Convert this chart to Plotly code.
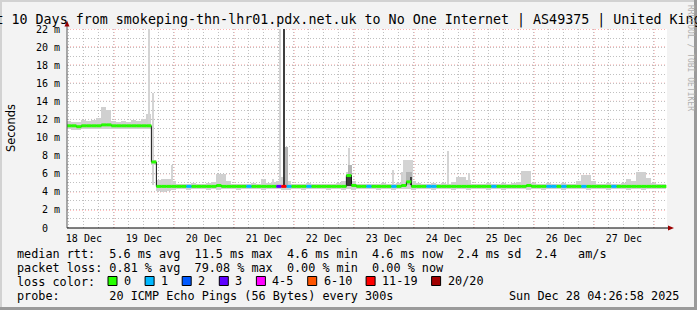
import plotly.graph_objects as go
import pandas as pd

# ------------------------------------------------------------------ data
range_start = "2025-12-18 05:15"
range_end = "2025-12-28 05:15"
bin_start = "2025-12-18 06:00"
bin_hours = 2

median_ms = [
    11.3, 11.3, 11.2, 11.3, 11.3, 11.3, 11.3, 11.4, 11.4, 11.3,
    11.3, 11.3, 11.3, 11.3, 11.3, 11.3, 11.3, 7.3, 4.6, 4.6,
    4.6, 4.6, 4.6, 4.6, 4.6, 4.6, 4.6, 4.6, 4.6, 4.6,
    4.7, 4.6, 4.6, 4.6, 4.6, 4.6, 4.6, 4.6, 4.6, 4.6,
    4.6, 4.6, 4.6, 4.6, 4.6, 4.6, 4.6, 4.6, 4.6, 4.6,
    4.6, 4.6, 4.6, 4.6, 4.6, 4.6, 5.8, 4.7, 4.6, 4.6,
    4.6, 4.6, 4.6, 4.6, 4.6, 4.6, 4.6, 4.7, 5.1, 4.6,
    4.6, 4.6, 4.6, 4.6, 4.6, 4.6, 4.6, 4.6, 4.6, 4.6,
    4.6, 4.6, 4.6, 4.6, 4.6, 4.6, 4.6, 4.6, 4.6, 4.6,
    4.6, 4.6, 4.7, 4.6, 4.6, 4.6, 4.6, 4.6, 4.6, 4.6,
    4.6, 4.6, 4.6, 4.6, 4.6, 4.6, 4.6, 4.6, 4.6, 4.6,
    4.6, 4.6, 4.6, 4.6, 4.6, 4.6, 4.6, 4.6, 4.6, 4.6,
]

loss_count = [
    0, 0, 0, 0, 0, 0, 0, 0, 0, 0,
    0, 0, 0, 0, 0, 0, 0, 0, 0, 0,
    0, 0, 0, 0, 1, 0, 0, 0, 0, 0,
    0, 0, 0, 0, 0, 0, 1, 0, 0, 0,
    0, 0, 3, 15, 1, 0, 0, 0, 1, 0,
    0, 0, 0, 0, 0, 0, 0, 0, 0, 0,
    1, 0, 0, 0, 0, 1, 0, 0, 0, 0,
    0, 0, 1, 1, 0, 0, 0, 0, 0, 0,
    0, 0, 0, 0, 0, 1, 0, 0, 0, 0,
    0, 0, 0, 0, 0, 0, 1, 1, 0, 1,
    0, 0, 0, 1, 0, 0, 0, 0, 0, 1,
    0, 0, 0, 0, 0, 0, 0, 0, 0, 0,
]

smoke_lo_ms = [
    10.9, 10.8, 10.8, 10.9, 10.9, 11.0, 10.9, 10.9, 11.0, 10.9,
    11.0, 10.9, 10.9, 11.0, 10.9, 11.0, 10.9, 7.0, 4.1, 4.0,
    4.1, 4.2, 4.3, 4.3, 4.2, 4.3, 4.3, 4.3, 4.2, 4.3,
    4.2, 4.3, 4.3, 4.3, 4.2, 4.3, 4.3, 4.3, 4.3, 4.2,
    4.3, 4.3, 4.3, 4.2, 4.2, 4.3, 4.3, 4.2, 4.3, 4.3,
    4.3, 4.3, 4.2, 4.3, 4.3, 4.2, 4.3, 4.2, 4.3, 4.3,
    4.3, 4.3, 4.2, 4.3, 4.3, 4.2, 4.3, 4.3, 4.3, 4.2,
    4.3, 4.3, 4.3, 4.2, 4.3, 4.3, 4.3, 4.2, 4.3, 4.3,
    4.2, 4.3, 4.3, 4.3, 4.2, 4.3, 4.3, 4.2, 4.3, 4.3,
    4.3, 4.3, 4.2, 4.3, 4.3, 4.2, 4.3, 4.3, 4.3, 4.2,
    4.3, 4.3, 4.3, 4.3, 4.2, 4.3, 4.3, 4.3, 4.2, 4.3,
    4.3, 4.3, 4.2, 4.3, 4.3, 4.2, 4.3, 4.3, 4.3, 4.3,
]

smoke_hi_ms = [
    11.8, 11.7, 11.7, 11.9, 11.8, 11.9, 12.2, 13.4, 13.0, 11.8,
    11.7, 11.8, 11.7, 11.9, 11.8, 12.0, 12.6, 7.5, 5.3, 5.4,
    5.4, 5.2, 4.9, 4.9, 4.9, 5.0, 4.9, 4.9, 5.0, 5.1,
    6.0, 6.0, 5.2, 4.9, 4.9, 4.9, 4.9, 5.0, 4.9, 5.4,
    5.0, 5.1, 5.2, 5.6, 5.2, 4.9, 4.9, 4.9, 5.0, 4.9,
    4.9, 4.9, 4.9, 4.9, 5.0, 5.2, 6.2, 5.2, 4.9, 4.9,
    4.9, 4.9, 4.9, 5.0, 4.9, 4.9, 5.0, 6.2, 6.2, 5.2,
    5.0, 4.9, 4.9, 5.0, 4.9, 5.0, 4.9, 5.1, 5.6, 5.6,
    5.3, 4.9, 4.9, 4.9, 5.0, 4.9, 4.9, 5.0, 4.9, 5.0,
    5.1, 6.3, 6.3, 5.0, 4.9, 4.9, 5.0, 4.9, 4.9, 5.0,
    4.9, 4.9, 5.2, 5.9, 5.9, 5.2, 4.9, 4.9, 5.0, 4.9,
    4.9, 5.0, 5.4, 5.2, 6.2, 6.2, 5.5, 5.0, 4.9, 4.9,
]

# short bursts of smoke (time, low, high, density 0 sparse..2 dense, duration min)
spike_time = [
    "2025-12-19 14:05", "2025-12-19 15:50", "2025-12-19 23:15",
    "2025-12-21 15:40", "2025-12-21 18:25", "2025-12-21 21:00",
    "2025-12-21 20:00", "2025-12-22 22:05", "2025-12-22 22:25",
    "2025-12-22 22:15", "2025-12-23 15:40", "2025-12-23 21:40",
    "2025-12-23 22:05", "2025-12-23 22:50", "2025-12-24 13:40",
    "2025-12-24 22:05",
]
spike_lo_ms = [11.6, 4.8, 4.9, 4.9, 4.9, 4.7, 4.7, 4.9, 4.7, 4.6, 4.9, 4.9, 4.8, 4.7, 4.9, 4.9]
spike_hi_ms = [22.5, 14.9, 7.0, 5.4, 22.5, 9.0, 22.5, 8.8, 7.0, 5.9, 6.4, 7.5, 6.2, 5.6, 8.5, 6.1]
spike_density = [0, 0, 0, 0, 0, 1, 2, 0, 1, 2, 0, 0, 1, 2, 0, 0]
spike_minutes = [40, 40, 60, 30, 50, 80, 50, 40, 80, 100, 40, 240, 140, 60, 30, 40]

day_labels = ["18 Dec", "19 Dec", "20 Dec", "21 Dec", "22 Dec",
              "23 Dec", "24 Dec", "25 Dec", "26 Dec", "27 Dec"]
label_dates = ["2025-12-18", "2025-12-19", "2025-12-20", "2025-12-21", "2025-12-22",
               "2025-12-23", "2025-12-24", "2025-12-25", "2025-12-26", "2025-12-27"]
ytick_vals = [0, 2, 4, 6, 8, 10, 12, 14, 16, 18, 20, 22]
ytick_text = ["0\u00a0\u00a0", "2 m", "4 m", "6 m", "8 m", "10 m", "12 m",
              "14 m", "16 m", "18 m", "20 m", "22 m"]

median_stats = [5.6, 11.5, 4.6, 4.6, 2.4, 2.4]   # avg max min now sd am/s
loss_stats = [0.81, 79.08, 0.00, 0.00]          # avg max min now
loss_labels = ["0", "1", "2", "3", "4-5", "6-10", "11-19", "20/20"]
loss_upper = [0, 1, 2, 3, 5, 10, 19, 20]
loss_colors = ["#26ff00", "#00b8ff", "#0059ff", "#5e00ff",
               "#ff00ff", "#ff5500", "#ff0000", "#a10000"]

title_text = ("Last 10 Days from smokeping-thn-lhr01.pdx.net.uk to No One Internet"
              " | AS49375 | United Kingdom")
probe_text = "20 ICMP Echo Pings (56 Bytes) every 300s"
stamp_text = "Sun Dec 28 04:26:58 2025"

# ------------------------------------------------------------------ geometry
W, H = 697, 310
L, T, PW, PH = 67, 29, 600, 199
MONO = "DejaVu Sans Mono"
NB = "\u00a0"


def px(x):
    return (x - L) / PW


def py(y):
    return (T + PH - y) / PH


def mono(s):
    return s.replace(" ", NB)


times = pd.date_range(bin_start, periods=len(median_ms), freq=f"{bin_hours}h")
half = pd.Timedelta(hours=bin_hours / 2)
bin_ms = bin_hours * 3600 * 1000

fig = go.Figure()

# base smoke
fig.add_trace(go.Bar(
    x=times, base=smoke_lo_ms,
    y=[h - l for h, l in zip(smoke_hi_ms, smoke_lo_ms)],
    width=bin_ms, marker=dict(color="#d0d0d0", line=dict(width=0)),
    hoverinfo="skip", showlegend=False))

# smoke bursts
shade = {0: "#d4d4d4", 1: "#b4b4b4", 2: "#3e3e3e"}
for d in (0, 1, 2):
    idx = [i for i, v in enumerate(spike_density) if v == d]
    fig.add_trace(go.Bar(
        x=[pd.Timestamp(spike_time[i]) for i in idx],
        base=[spike_lo_ms[i] for i in idx],
        y=[spike_hi_ms[i] - spike_lo_ms[i] for i in idx],
        width=[spike_minutes[i] * 60000 for i in idx],
        marker=dict(color=shade[d], line=dict(width=0)),
        hoverinfo="skip", showlegend=False))

# median connector
fig.add_trace(go.Scatter(
    x=times, y=median_ms, mode="lines", line=dict(color="#111111", width=1, shape="hvh"),
    hoverinfo="skip", showlegend=False))


def loss_class(n):
    for k, up in enumerate(loss_upper):
        if n <= up:
            return k
    return len(loss_upper) - 1


for k, col in enumerate(loss_colors):
    xs, ys = [], []
    for t, m, n in zip(times, median_ms, loss_count):
        if loss_class(n) == k:
            xs += [t - half, t + half, None]
            ys += [m, m, None]
    if xs:
        fig.add_trace(go.Scatter(x=xs, y=ys, mode="lines",
                                 line=dict(color=col, width=3),
                                 hoverinfo="skip", showlegend=False))

# ------------------------------------------------------------------ shapes
shapes = []
red_grid = "#ff6a6a"
gray_grid = "#c0c0c0"
GRID_DASH = "1px,2px"
for d in pd.date_range(pd.Timestamp(range_start).normalize() + pd.Timedelta(days=1),
                       pd.Timestamp(range_end), freq="D"):
    shapes.append(dict(type="line", xref="x", yref="paper", x0=d, x1=d, y0=0, y1=1,
                       line=dict(color=red_grid, width=1, dash=GRID_DASH), layer="below"))
for v in ytick_vals[1:]:
    shapes.append(dict(type="line", xref="paper", yref="y", x0=0, x1=1, y0=v, y1=v,
                       line=dict(color=red_grid, width=1, dash=GRID_DASH), layer="below"))

# frame shading
shapes += [
    dict(type="rect", xref="paper", yref="paper", x0=px(0), x1=px(W), y0=py(0), y1=py(2),
         fillcolor="#d2d2d2", line=dict(width=0), layer="above"),
    dict(type="rect", xref="paper", yref="paper", x0=px(0), x1=px(2), y0=py(0), y1=py(H),
         fillcolor="#d2d2d2", line=dict(width=0), layer="above"),
    dict(type="rect", xref="paper", yref="paper", x0=px(W - 3), x1=px(W), y0=py(0), y1=py(H),
         fillcolor="#9a9a9a", line=dict(width=0), layer="above"),
    dict(type="rect", xref="paper", yref="paper", x0=px(0), x1=px(W), y0=py(H - 3), y1=py(H),
         fillcolor="#9a9a9a", line=dict(width=0), layer="above"),
]
# axis extensions and arrows
shapes.append(dict(type="line", xref="paper", yref="paper", x0=px(L), x1=px(L),
                   y0=py(T + PH), y1=py(25), line=dict(color="#555555", width=1), layer="above"))
shapes.append(dict(type="line", xref="paper", yref="paper", x0=px(L), x1=px(669),
                   y0=py(T + PH), y1=py(T + PH), line=dict(color="#000000", width=1), layer="above"))
shapes.append(dict(type="path", xref="paper", yref="paper",
                   path=f"M{px(64.5)},{py(26.5)} L{px(69.5)},{py(26.5)} L{px(67)},{py(20.5)} Z",
                   fillcolor="#9a0000", line=dict(width=0), layer="above"))
shapes.append(dict(type="path", xref="paper", yref="paper",
                   path=f"M{px(668)},{py(225.5)} L{px(668)},{py(230.5)} L{px(674)},{py(228)} Z",
                   fillcolor="#9a0000", line=dict(width=0), layer="above"))

# legend squares
CW = 7.1
sq_x = 108.0
sq_y = 281.0
ann = []
for lab, col in zip(loss_labels, loss_colors):
    shapes.append(dict(type="rect", xref="paper", yref="paper",
                       x0=px(sq_x), x1=px(sq_x + 9), y0=py(sq_y - 4.5), y1=py(sq_y + 4.5),
                       fillcolor=col, line=dict(color="#000000", width=1), layer="above"))
    ann.append(dict(x=px(sq_x + 14), y=py(sq_y), text=lab, xanchor="left"))
    sq_x += 15 + len(lab) * CW + 15

# ------------------------------------------------------------------ text
row1 = (f"median rtt:  {median_stats[0]:.1f} ms avg  {median_stats[1]:.1f} ms max  "
        f"{median_stats[2]:.1f} ms min  {median_stats[3]:.1f} ms now  "
        f"{median_stats[4]:.1f} ms sd  {median_stats[5]:.1f}   am/s")
row2 = (f"packet loss: {loss_stats[0]:.2f} % avg  {loss_stats[1]:.2f} % max  "
        f"{loss_stats[2]:.2f} % min  {loss_stats[3]:.2f} % now")
ann += [
    dict(x=px(15), y=py(254), text=row1, xanchor="left"),
    dict(x=px(15), y=py(268), text=row2, xanchor="left"),
    dict(x=px(15), y=py(281.5), text="loss color:", xanchor="left"),
    dict(x=px(15), y=py(296), text="probe:       " + probe_text, xanchor="left"),
    dict(x=px(681), y=py(296), text=stamp_text, xanchor="right"),
]
annotations = []
for a in ann:
    a = dict(a)
    a["text"] = mono(a["text"])
    annotations.append(dict(xref="paper", yref="paper", yanchor="middle", showarrow=False,
                            font=dict(family=MONO, size=11.8, color="#000000"), **a))

annotations.append(dict(xref="paper", yref="paper", x=px(11), y=py(128), text="Seconds",
                        textangle=-90, showarrow=False, xanchor="center", yanchor="middle",
                        font=dict(family="DejaVu Sans", size=11.4, color="#000000")))
annotations.append(dict(xref="paper", yref="paper", x=px(690), y=py(58),
                        text=mono("RRDTOOL / TOBI OETIKER"), textangle=90, showarrow=False,
                        xanchor="center", yanchor="middle",
                        font=dict(family=MONO, size=8, color="#b0b0b0")))

fig.update_layout(
    width=W, height=H,
    margin=dict(l=L, r=W - L - PW, t=T, b=H - T - PH, autoexpand=False),
    paper_bgcolor="#f3f3f3", plot_bgcolor="#ffffff",
    barmode="overlay", bargap=0, showlegend=False,
    title=dict(text=mono(title_text), x=0.5, xref="container", xanchor="center",
               y=1 - 19.5 / H, yanchor="middle", yref="container",
               font=dict(family=MONO, size=13.33, color="#000000")),
    xaxis=dict(type="date", range=[range_start, range_end], showgrid=False,
               tickvals=[pd.Timestamp(d) + pd.Timedelta(hours=12) for d in label_dates],
               ticktext=day_labels, ticks="", ticklabelstandoff=3,
               tickfont=dict(family=MONO, size=10, color="#000000"),
               minor=dict(dtick=6 * 3600 * 1000, tick0="2025-12-18 00:00", showgrid=True,
                          gridcolor=gray_grid, griddash=GRID_DASH, gridwidth=1),
               showline=False, zeroline=False, fixedrange=True),
    yaxis=dict(range=[0, 22], tickvals=ytick_vals, ticktext=ytick_text,
               showgrid=False,
               minor=dict(dtick=1, showgrid=True, gridcolor=gray_grid, griddash=GRID_DASH),
               ticks="", ticklabelstandoff=6,
               tickfont=dict(family=MONO, size=10, color="#000000"),
               showline=False, zeroline=False, fixedrange=True),
    shapes=shapes, annotations=annotations,
)

fig.write_html("out.html")
